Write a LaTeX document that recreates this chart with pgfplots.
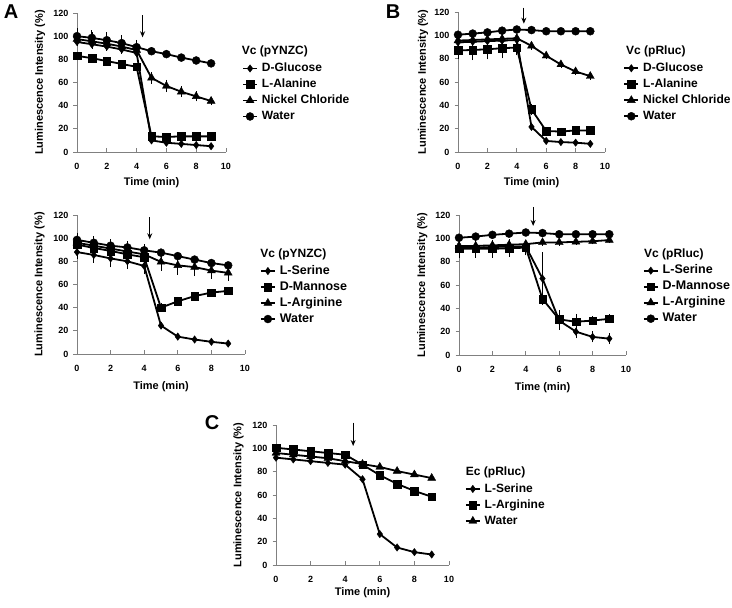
\documentclass[border=0pt]{standalone}
\usepackage{fontspec}
\setmainfont{Liberation Sans}
\usepackage{pgfplots}
\pgfplotsset{compat=1.18}
\usetikzlibrary{arrows.meta}
\definecolor{axgray}{gray}{0.5}
\tikzset{
  ttl/.style={anchor=west, font=\bfseries\fontsize{12}{12}\selectfont, inner sep=0pt},
  arr/.style={draw=black, line width=1pt, -{Stealth[length=6pt,width=5pt]}},
}
\pgfplotsset{
  panel/.style={
    scale only axis, clip=false,
    xmin=0, xmax=10, ymin=0, ymax=120,
    xtick={0,2,...,10}, ytick={0,20,...,120},
    axis x line*=bottom, axis y line*=left,
    axis line style={draw=axgray, line width=0.9pt},
    tick style={draw=axgray, line width=0.9pt},
    tick align=outside, major tick length=3.5pt,
    every x tick/.append style={yshift=3.5pt},
    /pgf/number format/assume math mode=true,
    ticklabel style={font=\bfseries\fontsize{9}{9}\selectfont},
    yticklabel style={xshift=-1.5pt},
    xticklabel style={yshift=-4pt},
    label style={font=\bfseries\fontsize{11}{11}\selectfont},
    xlabel={Time (min)}, ylabel={Luminescence Intensity (\%)},
    legend cell align=left,
    legend image code/.code={\draw[mark repeat=2,mark phase=2] plot coordinates {(0pt,0pt) (7pt,0pt) (14pt,0pt)};},
    legend style={draw=none, fill=none, inner sep=0pt, anchor=north west,
       font=\bfseries\fontsize{12}{12}\selectfont,
       nodes={inner sep=1pt, text height=8.6pt, text depth=2.4pt},
       /tikz/every odd column/.append style={column sep=3pt},
       row sep=3pt},
    every axis plot/.append style={black, line width=1.8pt},
    error bars/error bar style={line width=0.8pt, solid},
    error bars/error mark options={mark size=2pt, line width=0.8pt},
  },
  sD/.style={mark=diamond*, mark size=3.7pt, mark options={solid, line width=0.4pt}},
  sS/.style={mark=square*, mark size=3.8pt, mark options={solid, line width=0.4pt}},
  sT/.style={mark=triangle*, mark size=4.6pt, mark options={solid, line width=0.4pt}},
  sC/.style={mark=*, mark size=4pt, mark options={solid, line width=0.4pt}},
  eb/.style={error bars/.cd, y dir=both, y explicit},
}
\begin{document}
\begin{tikzpicture}
\path[use as bounding box] (0,0) rectangle (732pt,608pt);

% Panel letters
\node[font=\bfseries\fontsize{20}{20}\selectfont] at (11pt,596pt) {A};
\node[font=\bfseries\fontsize{20}{20}\selectfont] at (393pt,596pt) {B};
\node[font=\bfseries\fontsize{20}{20}\selectfont] at (212pt,185.5pt) {C};

% ---------- A top ----------
\begin{axis}[panel, at={(77pt,456pt)}, anchor=south west, width=149pt, height=139pt,
  ylabel style={at={(axis description cs:-0.248,0.5)}, anchor=center},
  xlabel style={at={(axis description cs:0.5,-0.221)}, anchor=center},
  legend style={at={(axis description cs:1.107,0.649)}}]
\addplot[sD, eb] coordinates {(0,95) +- (0,2) (1,93) +- (0,2) (2,91) +- (0,2) (3,88.5) +- (0,2) (4,85.5) +- (0,2) (5,10) +- (0,1) (6,8) +- (0,1) (7,7) +- (0,1) (8,6) +- (0,1) (9,5) +- (0,1)};
\addlegendentry{D-Glucose}
\addplot[sS] coordinates {(0,83) (1,81) (2,78.5) (3,76) (4,73.5) (5,13.5) (6,13) (7,13.5) (8,13.5) (9,13.5)};
\addlegendentry{L-Alanine}
\addplot[sT, eb] coordinates {(0,97.5) +- (0,3) (1,95.5) +- (0,3) (2,93.5) +- (0,3) (3,91) +- (0,3) (4,88) +- (0,3) (5,64) +- (0,3.5) (6,57) +- (0,3.5) (7,52) +- (0,3) (8,48) +- (0,2.5) (9,44) +- (0,2)};
\addlegendentry{Nickel Chloride}
\addplot[sC, eb] coordinates {(0,100) +- (0,5) (1,98.5) +- (0,5) (2,96.5) +- (0,5) (3,94) +- (0,5) (4,90.5) +- (0,4.5) (5,87) +- (0,1.5) (6,84.5) +- (0,1.5) (7,81.5) +- (0,1.5) (8,79) +- (0,1) (9,76.5) +- (0,1)};
\addlegendentry{Water}
\draw[arr] (axis cs:4.4,118) -- (axis cs:4.4,99);
\node[ttl] at (axis description cs:1.105,0.722) {Vc (pYNZC)};
\end{axis}

% ---------- B top ----------
\begin{axis}[panel, at={(458pt,456pt)}, anchor=south west, width=147pt, height=140pt,
  ylabel style={at={(axis description cs:-0.238,0.5)}, anchor=center},
  xlabel style={at={(axis description cs:0.5,-0.219)}, anchor=center},
  legend style={at={(axis description cs:1.124,0.646)}}]
\addplot[sD] coordinates {(0,94) (1,94.5) (2,95) (3,95.5) (4,96) (5,21.5) (6,9.5) (7,8.5) (8,8) (9,7)};
\addlegendentry{D-Glucose}
\addplot[sS, eb] coordinates {(0,87) +- (0,6) (1,87.5) +- (0,7) (2,88) +- (0,7) (3,89) +- (0,7) (4,89.5) +- (0,5) (5,36.5) +- (0,3) (6,18) +- (0,1.5) (7,17.5) +- (0,1.5) (8,18.5) +- (0,1.5) (9,18.5) +- (0,1.5)};
\addlegendentry{L-Alanine}
\addplot[sT, eb] coordinates {(0,95.5) +- (0,2) (1,96) +- (0,2) (2,96.5) +- (0,2) (3,97) +- (0,2) (4,97.5) +- (0,2) (5,91) +- (0,1.5) (6,82.5) +- (0,1.5) (7,75) +- (0,1.5) (8,69) +- (0,1.5) (9,65) +- (0,1.5)};
\addlegendentry{Nickel Chloride}
\addplot[sC] coordinates {(0,100.5) (1,101.5) (2,102.5) (3,104) (4,105) (5,104.5) (6,103.5) (7,103.5) (8,103.5) (9,103.5)};
\addlegendentry{Water}
\draw[arr] (axis cs:4.48,123.7) -- (axis cs:4.48,110);
\node[ttl] at (axis description cs:1.143,0.718) {Vc (pRluc)};
\end{axis}

% ---------- A bottom ----------
\begin{axis}[panel, at={(77pt,254pt)}, anchor=south west, width=168pt, height=139pt,
  ylabel style={at={(axis description cs:-0.223,0.5)}, anchor=center},
  xlabel style={at={(axis description cs:0.5,-0.233)}, anchor=center},
  legend style={at={(axis description cs:1.088,0.645)}, font=\bfseries\fontsize{12.5}{12.5}\selectfont}]
\addplot[sD, eb] coordinates {(0,88) +- (0,4) (1,85.5) +- (0,5) (2,82.5) +- (0,6) (3,80) +- (0,5) (4,76) +- (0,5) (5,24.5) +- (0,1.5) (6,15) +- (0,1.5) (7,12.5) +- (0,1) (8,10.5) +- (0,1) (9,9) +- (0,1)};
\addlegendentry{L-Serine}
\addplot[sS, eb] coordinates {(0,94.5) +- (0,3) (1,91.5) +- (0,3) (2,89) +- (0,3) (3,86) +- (0,3) (4,83.5) +- (0,3) (5,40) +- (0,2) (6,45.5) +- (0,2) (7,50) +- (0,2) (8,53) +- (0,1.5) (9,54.5) +- (0,1.5)};
\addlegendentry{D-Mannose}
\addplot[sT, eb] coordinates {(0,96) +- (0,3) (1,93.5) +- (0,3) (2,91) +- (0,3) (3,88.5) +- (0,3) (4,86) +- (0,3) (5,79.5) +- (0,6) (6,76.5) +- (0,6.5) (7,75) +- (0,6) (8,72) +- (0,5.5) (9,70) +- (0,5)};
\addlegendentry{L-Arginine}
\addplot[sC, eb] coordinates {(0,98.5) +- (0,4.5) (1,96) +- (0,4) (2,93.5) +- (0,4) (3,92) +- (0,3.5) (4,89.5) +- (0,3.5) (5,87.5) +- (0,1.5) (6,84.5) +- (0,1.5) (7,81.5) +- (0,1.5) (8,78.5) +- (0,1) (9,76.5) +- (0,1)};
\addlegendentry{Water}
\draw[arr] (axis cs:4.33,118) -- (axis cs:4.33,99);
\node[ttl] at (axis description cs:1.09,0.713) {Vc (pYNZC)};
\end{axis}

% ---------- B bottom ----------
\begin{axis}[panel, at={(459pt,253pt)}, anchor=south west, width=167pt, height=140pt,
  ylabel style={at={(axis description cs:-0.22,0.5)}, anchor=center},
  xlabel style={at={(axis description cs:0.5,-0.231)}, anchor=center},
  legend style={at={(axis description cs:1.100,0.650)}, font=\bfseries\fontsize{12.5}{12.5}\selectfont}]
\addplot[sD, eb] coordinates {(0,92) +- (0,4) (1,92) +- (0,4) (2,92.5) +- (0,4) (3,93) +- (0,4) (4,93) +- (0,4) (5,65.5) +- (0,21) (6,29.5) +- (0,6) (7,20) +- (0,4) (8,15.5) +- (0,3) (9,14) +- (0,3)};
\addlegendentry{L-Serine}
\addplot[sS, eb] coordinates {(0,91) +- (0,6) (1,91) +- (0,6) (2,91) +- (0,6) (3,91.5) +- (0,6) (4,92) +- (0,5) (5,48) +- (0,2) (6,30.5) +- (0,6) (7,28.5) +- (0,5) (8,29.5) +- (0,2) (9,31) +- (0,2)};
\addlegendentry{D-Mannose}
\addplot[sT, eb] coordinates {(0,93.5) +- (0,2) (1,93.5) +- (0,2) (2,94) +- (0,2) (3,94.5) +- (0,2) (4,95) +- (0,2) (5,96.5) +- (0,1) (6,96.5) +- (0,1) (7,97) +- (0,1) (8,97.5) +- (0,1) (9,98.5) +- (0,1)};
\addlegendentry{L-Arginine}
\addplot[sC] coordinates {(0,100.5) (1,101.5) (2,103) (3,104) (4,105) (5,104.5) (6,103.5) (7,103.5) (8,103.5) (9,103.5)};
\addlegendentry{Water}
\draw[arr] (axis cs:4.44,127) -- (axis cs:4.44,110.6);
\node[ttl] at (axis description cs:1.108,0.718) {Vc (pRluc)};
\end{axis}

% ---------- C ----------
\begin{axis}[panel, at={(276pt,43pt)}, anchor=south west, width=173pt, height=140pt,
  ylabel style={at={(axis description cs:-0.216,0.5)}, anchor=center},
  xlabel style={at={(axis description cs:0.5,-0.2)}, anchor=center},
  legend style={at={(axis description cs:1.091,0.591)}}]
\addplot[sD] coordinates {(0,92) (1,90.5) (2,89) (3,87.5) (4,86) (5,73.5) (6,26.5) (7,15) (8,11) (9,9)};
\addlegendentry{L-Serine}
\addplot[sS] coordinates {(0,100.5) (1,99) (2,97.5) (3,96) (4,94.5) (5,86) (6,77) (7,69.5) (8,63.5) (9,58.5)};
\addlegendentry{L-Arginine}
\addplot[sT] coordinates {(0,96) (1,94.5) (2,93) (3,91.5) (4,89) (5,86.5) (6,84) (7,80.5) (8,77.5) (9,74.5)};
\addlegendentry{Water}
\draw[arr] (axis cs:4.46,122) -- (axis cs:4.46,102);
\node[ttl] at (axis description cs:1.097,0.663) {Ec (pRluc)};
\end{axis}
\end{tikzpicture}
\end{document}
